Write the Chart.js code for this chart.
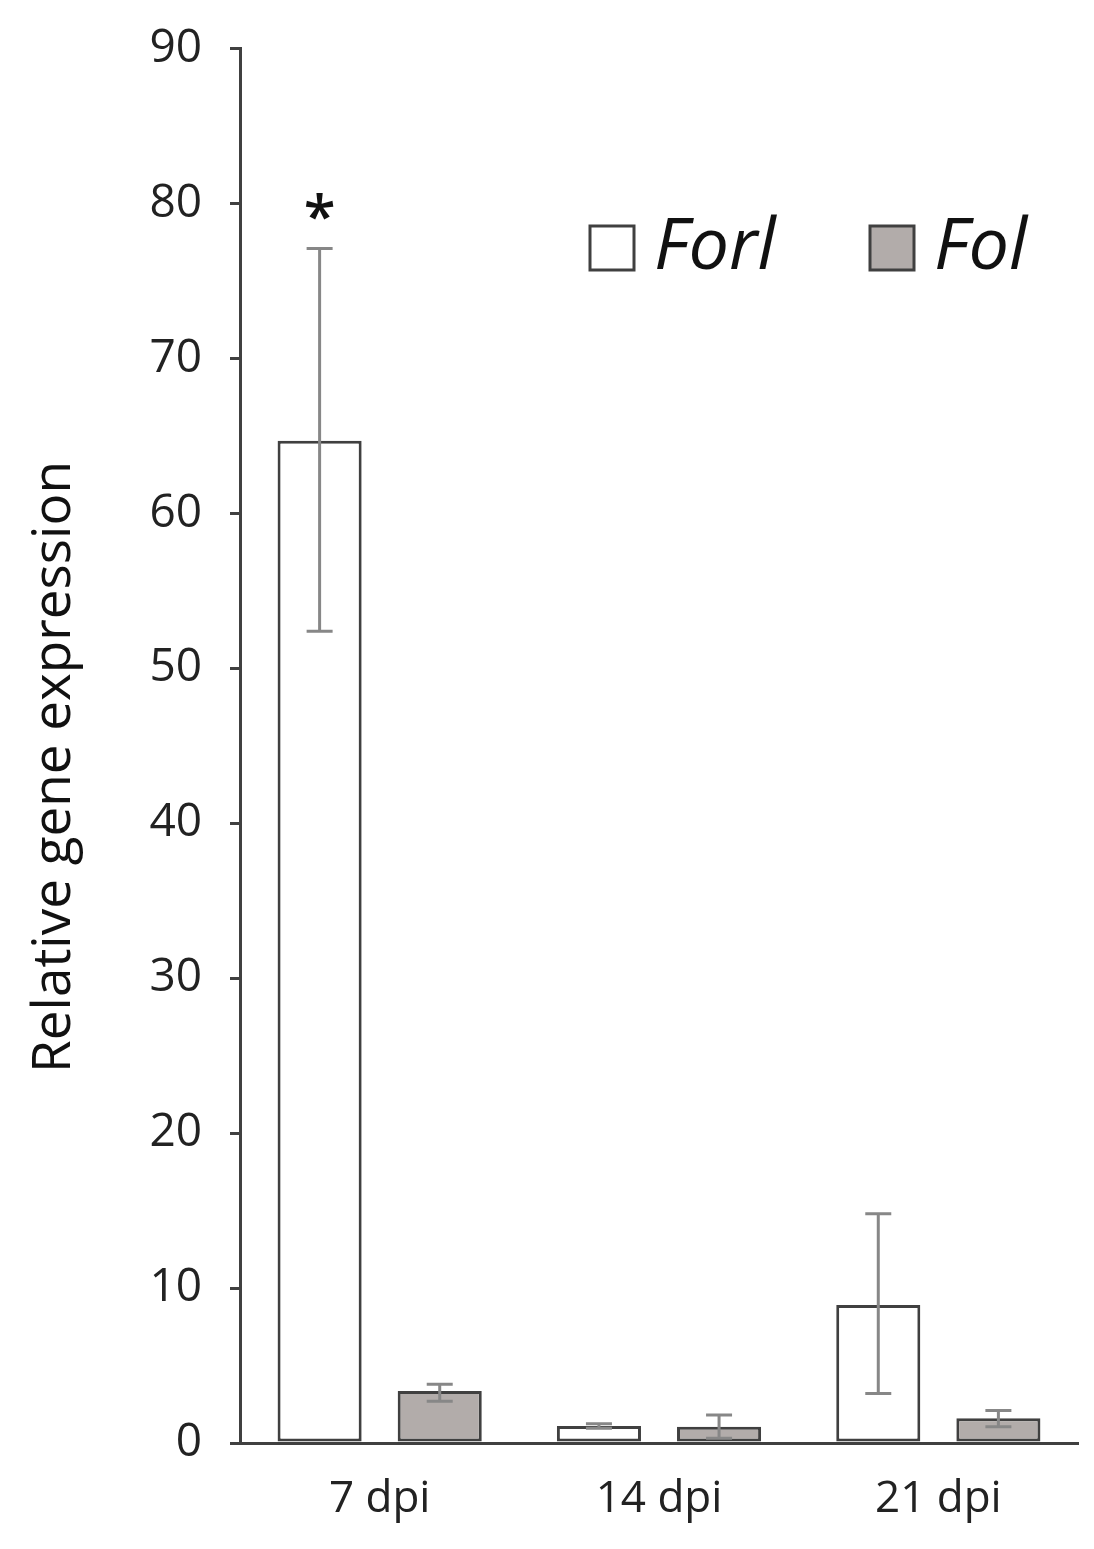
<!DOCTYPE html>
<html>
<head>
<meta charset="utf-8">
<script src="https://cdn.jsdelivr.net/npm/chart.js@4"></script>
<style>
  html, body { margin:0; padding:0; background:#fff; }
  #wrap { width:1094px; height:1549px; position:relative; }
</style>
</head>
<body>
<div id="wrap"><canvas id="chart" width="1094" height="1549"></canvas></div>
<script>
// data
const categories = ['7 dpi', '14 dpi', '21 dpi'];
const seriesNames = ['Forl', 'Fol'];
const forlValues = [64.7, 1.1, 8.9];
const forlLow = [52.4, 0.95, 3.2];
const forlHigh = [77.1, 1.25, 14.8];
const folValues = [3.35, 1.05, 1.6];
const folLow = [2.7, 0.3, 1.05];
const folHigh = [3.8, 1.8, 2.1];
const forlMarks = ['*', '', ''];
const yTicks = [0, 10, 20, 30, 40, 50, 60, 70, 80, 90];
const yTitle = 'Relative gene expression';

const FONT = "'Open Sans', 'DejaVu Sans', sans-serif";
const AXIS = '#404040';

// error bars + significance star
const errorBars = {
  id: 'errorBars',
  afterDatasetsDraw(chart){
    const ctx = chart.ctx, y = chart.scales.y;
    const errs = [[forlLow, forlHigh], [folLow, folHigh]];
    ctx.save();
    ctx.strokeStyle = '#878787';
    ctx.lineWidth = 3;
    chart.data.datasets.forEach((ds, di) => {
      const meta = chart.getDatasetMeta(di);
      meta.data.forEach((bar, i) => {
        const x = bar.x;
        const yl = y.getPixelForValue(errs[di][0][i]);
        const yh = y.getPixelForValue(errs[di][1][i]);
        ctx.beginPath();
        ctx.moveTo(x, yl); ctx.lineTo(x, yh);
        ctx.moveTo(x - 13, yl); ctx.lineTo(x + 13, yl);
        ctx.moveTo(x - 13, yh); ctx.lineTo(x + 13, yh);
        ctx.stroke();
      });
    });
    // star
    const meta0 = chart.getDatasetMeta(0);
    ctx.fillStyle = '#111';
    ctx.font = '600 58px ' + FONT;
    ctx.textAlign = 'center';
    ctx.textBaseline = 'middle';
    forlMarks.forEach((m, i) => {
      if (!m) return;
      ctx.fillText(m, meta0.data[i].x, y.getPixelForValue(forlHigh[i]) - 28);
    });
    ctx.restore();
  }
};

// legend inside the plot area + rotated y title
const insideLegend = {
  id: 'insideLegend',
  afterDraw(chart){
    const ctx = chart.ctx;
    const items = [{x: 590}, {x: 870}];
    ctx.save();
    ctx.font = 'italic 72px ' + FONT;
    ctx.textBaseline = 'middle';
    ctx.textAlign = 'left';
    chart.data.datasets.forEach((ds, i) => {
      const bx = items[i].x, by = 226, s = 44;
      ctx.fillStyle = ds.backgroundColor;
      ctx.fillRect(bx, by, s, s);
      ctx.strokeStyle = '#404040';
      ctx.lineWidth = 3;
      ctx.strokeRect(bx, by, s, s);
      ctx.fillStyle = '#111';
      ctx.fillText(ds.label, bx + s + 20, by + s / 2);
    });
    ctx.translate(55, 767);
    ctx.rotate(-Math.PI / 2);
    ctx.font = '53px ' + FONT;
    ctx.textAlign = 'center';
    ctx.fillText(yTitle, 0, 0);
    ctx.restore();
  }
};

new Chart(document.getElementById('chart'), {
  type: 'bar',
  data: {
    labels: categories,
    datasets: [
      { label: seriesNames[0], data: forlValues, backgroundColor: '#ffffff', borderColor: AXIS, borderWidth: 3, borderSkipped: false },
      { label: seriesNames[1], data: folValues, backgroundColor: '#b2acaa', borderColor: AXIS, borderWidth: 3, borderSkipped: false }
    ]
  },
  options: {
    responsive: false,
    animation: false,
    categoryPercentage: 0.86,
    barPercentage: 0.7,
    layout: { padding: { left: 0, right: 16, top: 48, bottom: 0 } },
    plugins: { legend: { display: false }, tooltip: { enabled: false } },
    scales: {
      x: {
        grid: { display: false },
        border: { display: true, color: AXIS, width: 3 },
        ticks: { color: '#222', font: { family: FONT, size: 44 }, padding: 22 },
        afterFit(scale){ scale.height = 106; }
      },
      y: {
        min: 0, max: 90,
        afterBuildTicks(scale){ scale.ticks = yTicks.map(v => ({ value: v })); },
        grid: { drawOnChartArea: false, drawTicks: true, tickLength: 10, color: AXIS, lineWidth: 3 },
        border: { display: true, color: AXIS, width: 3 },
        ticks: { color: '#222', font: { family: FONT, size: 46, lineHeight: 0.9 }, padding: 28 },
        afterFit(scale){ scale.width = 240; }
      }
    }
  },
  plugins: [errorBars, insideLegend]
});
</script>
</body>
</html>
